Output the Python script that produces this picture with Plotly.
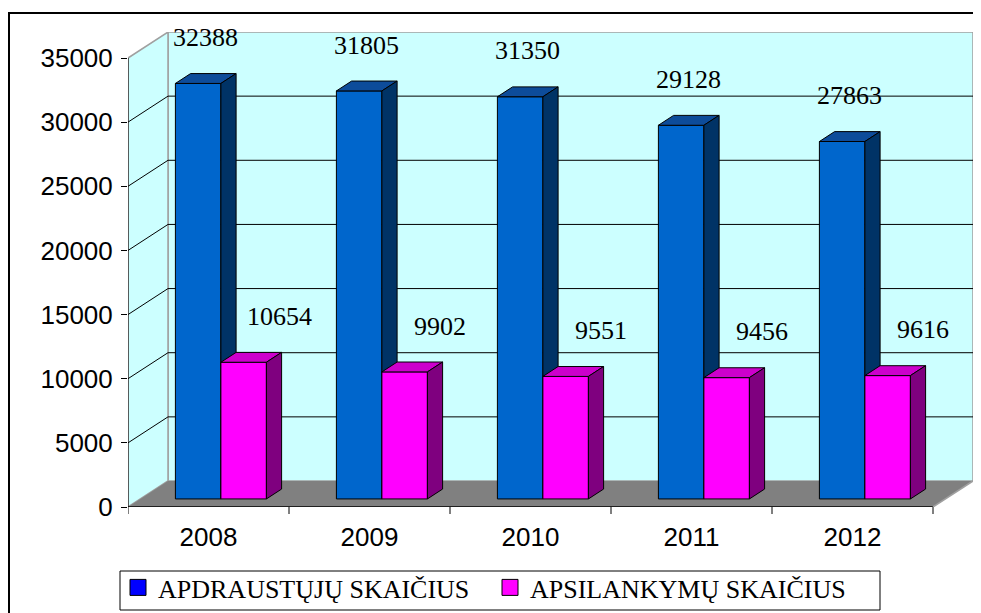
import plotly.graph_objects as go

# ---- data ----
years = ["2008", "2009", "2010", "2011", "2012"]
insured = [32388, 31805, 31350, 29128, 27863]      # APDRAUSTŲJŲ SKAIČIUS
visits = [10654, 9902, 9551, 9456, 9616]           # APSILANKYMŲ SKAIČIUS
series_names = ["APDRAUSTŲJŲ SKAIČIUS", "APSILANKYMŲ SKAIČIUS"]
y_ticks = [0, 5000, 10000, 15000, 20000, 25000, 30000, 35000]

# ---- geometry of the pseudo-3D frame (the page body adds an 8px offset) ----
W, H = 973, 605
ML, MR, MT, MB = 120, 8, 24, 106
YMAX = 35000
n = len(years)
px_cat = (W - ML - MR - 40) / n           # pixels per category on the front plane
px_unit = (H - MT - MB - 26) / YMAX       # pixels per value unit
DX = 40 / px_cat                          # wall depth in category units
DY = 26 / px_unit                         # wall depth in value units
F0, F1 = 0.31, 0.69                       # bars' front/back depth fraction
BW = 0.2826                               # bar width (category units)
BDX, BDY = (F1 - F0) * DX, (F1 - F0) * DY
BASE = F0 * DY
pw, ph = W - ML - MR, H - MT - MB

def px_x(p):   # figure pixel -> paper x
    return (p - ML) / pw

def px_y(p):   # figure pixel -> paper y
    return (H - MB - p) / ph

fig = go.Figure()

styles = [
    dict(front="#0066CC", top="#0D4C9A", side="#003366"),
    dict(front="#FF00FF", top="#CC00CC", side="#7F007F"),
]

def poly(xs, ys, color):
    fig.add_trace(go.Scatter(
        x=xs + [xs[0]], y=ys + [ys[0]], mode="lines", fill="toself",
        fillcolor=color, line=dict(color="black", width=1),
        showlegend=False, hoverinfo="skip"))

for i in range(n):
    for s, vals in enumerate([insured, visits]):
        v = vals[i]
        st = styles[s]
        xl = i + 0.5 - BW + s * BW + F0 * DX
        xr = xl + BW
        y0, y1 = BASE, BASE + v
        poly([xl, xr, xr, xl], [y0, y0, y1, y1], st["front"])
        poly([xl, xr, xr + BDX, xl + BDX], [y1, y1, y1 + BDY, y1 + BDY], st["top"])
        poly([xr, xr + BDX, xr + BDX, xr], [y0, y0 + BDY, y1 + BDY, y1], st["side"])

# legend entries
for name, col in zip(series_names, ["#0000FF", "#FF00FF"]):
    fig.add_trace(go.Scatter(
        x=[None], y=[None], mode="markers", name=name,
        marker=dict(symbol="square", size=16, color=col,
                    line=dict(color="black", width=1))))

# ---- frame shapes ----
shapes = []
wall = "#CCFFFF"
grey = "#A0A0A0"
shapes.append(dict(type="rect", xref="x", yref="y", x0=DX, x1=n + DX, y0=DY, y1=YMAX + DY,
                   fillcolor=wall, line=dict(color=grey, width=1.5), layer="below"))
shapes.append(dict(type="path", xref="x", yref="y",
                   path=f"M0,0 L{DX},{DY} L{DX},{YMAX + DY} L0,{YMAX} Z",
                   fillcolor=wall, line=dict(color=grey, width=1.5), layer="below"))
shapes.append(dict(type="path", xref="x", yref="y",
                   path=f"M0,0 L{n},0 L{n + DX},{DY} L{DX},{DY} Z",
                   fillcolor="#808080", line=dict(width=0), layer="below"))
for v in y_ticks[1:-1]:
    shapes.append(dict(type="line", xref="x", yref="y", x0=DX, x1=n + DX, y0=v + DY, y1=v + DY,
                       line=dict(color="black", width=1), layer="below"))
    shapes.append(dict(type="line", xref="x", yref="y", x0=0, x1=DX, y0=v, y1=v + DY,
                       line=dict(color="black", width=1), layer="below"))
# front axes
shapes.append(dict(type="line", xref="x", yref="y", x0=0, x1=0, y0=0, y1=YMAX,
                   line=dict(color="black", width=1)))
shapes.append(dict(type="line", xref="x", yref="y", x0=0, x1=n, y0=0, y1=0,
                   line=dict(color="black", width=1.5)))
shapes.append(dict(type="line", xref="x", yref="y", x0=n, x1=n + DX, y0=0, y1=DY,
                   line=dict(color=grey, width=1.5)))
for k in range(n + 1):
    shapes.append(dict(type="line", xref="x", yref="paper", x0=k, x1=k, y0=0, y1=-7 / ph,
                       line=dict(color="black", width=1)))
# outer chart border (continues past the right and bottom edges)
shapes.append(dict(type="rect", xref="paper", yref="paper",
                   x0=px_x(1), x1=px_x(W + 30), y0=px_y(H + 30), y1=px_y(5),
                   line=dict(color="black", width=2), fillcolor="rgba(0,0,0,0)"))
# legend frame
shapes.append(dict(type="rect", xref="paper", yref="paper",
                   x0=px_x(112), x1=px_x(872), y0=px_y(602), y1=px_y(563),
                   line=dict(color="black", width=1), fillcolor="white", layer="below"))

# ---- value labels ----
annotations = []
off = 36 / px_unit
for i in range(n):
    for s, vals in enumerate([insured, visits]):
        v = vals[i]
        xl = i + 0.5 - BW + s * BW + F0 * DX
        xc = xl + BW / 2 + BDX / 2 + (0.175 if s == 1 else 0)
        annotations.append(dict(
            x=xc, y=BASE + v + BDY + off, xref="x", yref="y", text=str(v),
            showarrow=False, xanchor="center", yanchor="middle",
            font=dict(family="Liberation Serif", size=26, color="black")))

fig.update_layout(
    width=W, height=H,
    margin=dict(l=ML, r=MR, t=MT, b=MB, autoexpand=False),
    paper_bgcolor="white", plot_bgcolor="white",
    shapes=shapes, annotations=annotations,
    xaxis=dict(range=[0, n + DX], tickvals=[i + 0.5 for i in range(n)], ticktext=years,
               showgrid=False, zeroline=False, showline=False, ticks="",
               ticklabelstandoff=12, automargin=False,
               tickfont=dict(family="Liberation Sans", size=26, color="black"),
               fixedrange=True),
    yaxis=dict(range=[0, YMAX + DY], tickvals=y_ticks, ticktext=[str(t) for t in y_ticks],
               showgrid=False, zeroline=False, showline=False, ticks="outside", ticklen=6,
               tickcolor="black", tickwidth=1, ticklabelstandoff=3, automargin=False,
               tickfont=dict(family="Liberation Sans", size=26, color="black"),
               fixedrange=True),
    legend=dict(orientation="h", x=px_x(110), xanchor="left",
                y=px_y(556), yanchor="top",
                borderwidth=0, bgcolor="rgba(0,0,0,0)",
                font=dict(family="Liberation Serif", size=26, color="black"),
                itemwidth=30, tracegroupgap=0, entrywidth=327),
    showlegend=True,
)

fig.write_html("out.html")
